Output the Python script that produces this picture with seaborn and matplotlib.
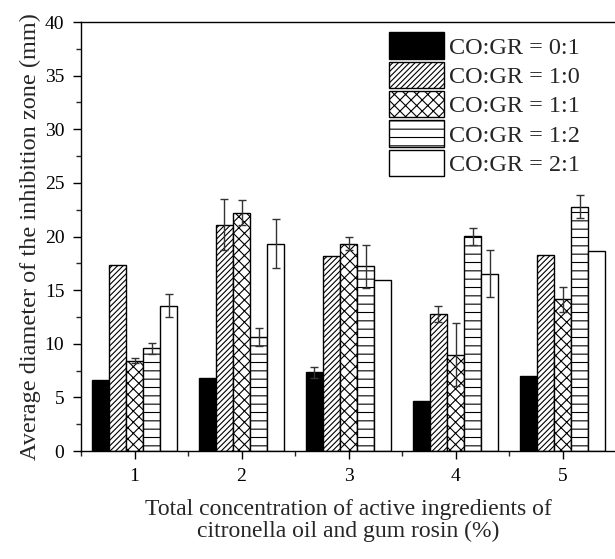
import numpy as np
import pandas as pd
import matplotlib
matplotlib.use("Agg")
import matplotlib.pyplot as plt
import seaborn as sns
from matplotlib.patches import Patch
from matplotlib.ticker import MultipleLocator

# DATA

concentrations = ["1", "2", "3", "4", "5"]
ratios = ["CO:GR = 0:1", "CO:GR = 1:0", "CO:GR = 1:1", "CO:GR = 1:2", "CO:GR = 2:1"]

means = {
    "CO:GR = 0:1": [6.65, 6.84, 7.34, 4.66, 7.00],
    "CO:GR = 1:0": [17.38, 21.11, 18.19, 12.75, 18.28],
    "CO:GR = 1:1": [8.43, 22.23, 19.34, 8.99, 14.15],
    "CO:GR = 1:2": [9.58, 10.63, 17.23, 20.02, 22.79],
    "CO:GR = 2:1": [13.56, 19.34, 15.98, 16.54, 18.69],
}
errors = {
    "CO:GR = 0:1": [0.0, 0.0, 0.53, 0.0, 0.0],
    "CO:GR = 1:0": [0.0, 2.4, 0.0, 0.75, 0.0],
    "CO:GR = 1:1": [0.25, 1.2, 0.6, 2.95, 1.17],
    "CO:GR = 1:2": [0.53, 0.87, 2.0, 0.8, 1.1],
    "CO:GR = 2:1": [1.09, 2.3, 0.0, 2.2, 0.0],
}

hatches = ["", "//////", "xxx", "--", ""]
fills = ["black", "white", "white", "white", "white"]

rows = []
for r in ratios:
    for c, m in zip(concentrations, means[r]):
        rows.append({"conc": c, "ratio": r, "value": m})
df = pd.DataFrame(rows)

# PLOTTING

sns.set_style("ticks")
plt.rcParams["font.family"] = ["Liberation Serif", "DejaVu Serif"]
plt.rcParams["hatch.linewidth"] = 0.8
plt.rcParams["hatch.color"] = "black"

fig = plt.figure(figsize=(6.15, 5.59), dpi=100)
ax = fig.add_axes([0.1317, 0.1932, 0.8700, 0.7674])

sns.barplot(data=df, x="conc", y="value", hue="ratio", order=concentrations,
            hue_order=ratios, palette=dict(zip(ratios, fills)), width=0.8,
            errorbar=None, edgecolor="black", linewidth=1.0, saturation=1,
            legend=False, ax=ax)

for container, r, h in zip(ax.containers, ratios, hatches):
    xs = []
    for bar in container:
        bar.set_hatch(h)
        bar.set_edgecolor("black")
        xs.append(bar.get_x() + bar.get_width() / 2)
    xs = np.array(xs)
    err = np.array(errors[r])
    keep = err > 0
    ax.errorbar(xs[keep], np.array(means[r])[keep], yerr=err[keep], fmt="none",
                ecolor="#333333", elinewidth=1.0, capsize=3, capthick=1.0, zorder=5)

ax.set_xlim(-0.5, 4.5)
ax.set_ylim(0, 40)
ax.yaxis.set_major_locator(MultipleLocator(5))
ax.yaxis.set_minor_locator(MultipleLocator(2.5))
ax.set_xticks(np.arange(-0.5, 5, 1), minor=True)

for s in ax.spines.values():
    s.set_visible(True)
    s.set_linewidth(1.0)
    s.set_color("black")

ax.tick_params(axis="both", which="major", direction="out", length=6, width=1,
               labelsize=14, colors="black", pad=6)
ax.tick_params(axis="both", which="minor", direction="out", length=3.5, width=1)

ax.set_xlabel("Total concentration of active ingredients of\ncitronella oil and gum rosin (%)",
              fontsize=17, labelpad=10, linespacing=1.05)
ax.set_ylabel("Average diameter of the inhibition zone (mm)", fontsize=17.5, labelpad=3)

handles = [Patch(facecolor=f, edgecolor="black", hatch=h, linewidth=1.0)
           for f, h in zip(fills, hatches)]
ax.legend(handles, ratios, loc="upper left", bbox_to_anchor=(0.543, 1.016),
          frameon=False, fontsize=17.5, handlelength=2.3, handleheight=1.3,
          labelspacing=0.12, handletextpad=0.2, borderpad=0.2)

plt.savefig("out.png", dpi=100)
